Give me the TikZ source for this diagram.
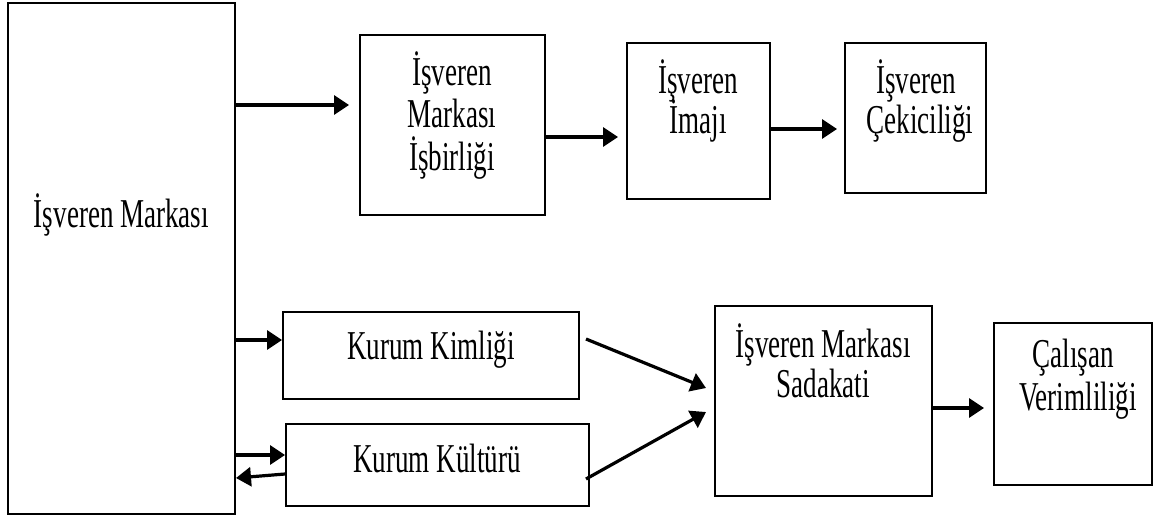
\documentclass[tikz,border=0pt]{standalone}
\usepackage{fontspec}
\setmainfont{Liberation Serif}[FakeStretch=0.66]
\usetikzlibrary{fit,arrows.meta}

\begin{document}
\begin{tikzpicture}[x=1pt,y=-1pt,
  box/.style={draw, line width=2pt, inner sep=0pt},
  txt/.style={anchor=base, inner sep=0pt, font=\fontsize{41}{44}\selectfont},
  arr/.style={line width=3.2pt, -{Triangle[length=15pt,width=19pt]}}]
\useasboundingbox (0,0) rectangle (1157,517);

% boxes
\node[box, fit={(8,3) (235,514)}] (big) {};
\node[box, fit={(360,35) (545,215)}] (b2) {};
\node[box, fit={(627,43) (770,199)}] (imaj) {};
\node[box, fit={(845,43) (986,193)}] (cek) {};
\node[box, fit={(283,312) (579,399)}] (kim) {};
\node[box, fit={(286,424) (589,506)}] (kul) {};
\node[box, fit={(715,306) (932,496)}] (sad) {};
\node[box, fit={(994,323) (1152,485)}] (cal) {};

% labels
\node[txt] (tbig) at (121.5,227) {İşveren Markası};
\node[txt] (tb2a) at (452,85) {İşveren};
\node[txt] (tb2b) at (452,127) {Markası};
\node[txt] (tb2c) at (452,170) {İşbirliği};
\node[txt] (tima) at (698,93) {İşveren};
\node[txt] (timb) at (698,133) {İmajı};
\node[txt] (tceka) at (916,93) {İşveren};
\node[txt] (tcekb) at (920,133) {Çekiciliği};
\node[txt] (tkim) at (431,359) {Kurum Kimliği};
\node[txt] (tkul) at (437,472) {Kurum Kültürü};
\node[txt] (tsada) at (823,357) {İşveren Markası};
\node[txt] (tsadb) at (823,397) {Sadakati};
\node[txt] (tcala) at (1073,367) {Çalışan};
\node[txt] (tcalb) at (1078,410) {Verimliliği};

% connectors
\draw[arr, shorten >=10pt] (big.east |- 0,105) -- (b2.west |- 0,105);
\draw[arr, shorten >=8pt] (b2.east |- 0,137) -- (imaj.west |- 0,137);
\draw[arr, shorten >=7pt] (imaj.east |- 0,129) -- (cek.west |- 0,129);
\draw[arr] (big.east |- 0,340) -- (kim.west |- 0,340);
\draw[arr] (big.east |- 0,455) -- (kul.west |- 0,455);
\draw[arr] (kul.west |- 0,474) -- (big.east |- 0,478);
\draw[arr] ([xshift=6pt,yshift=16.5pt]kim.east) -- ([xshift=-8pt,yshift=13pt]sad.west);
\draw[arr] ([xshift=-4pt,yshift=-14pt]kul.east) -- ([xshift=-8pt,yshift=-11pt]sad.west);
\draw[arr, shorten >=9pt] (sad.east |- 0,408) -- (cal.west |- 0,408);
\end{tikzpicture}
\end{document}
